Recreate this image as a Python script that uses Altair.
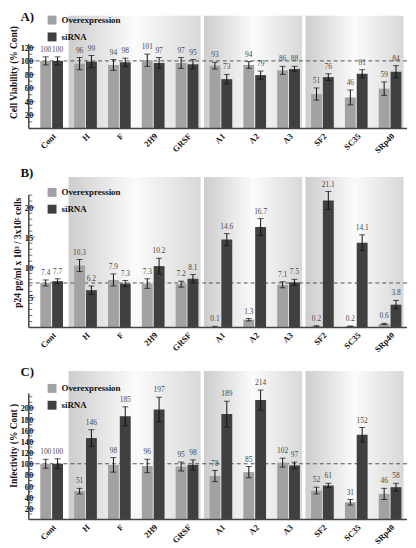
import altair as alt
import pandas as pd

categories = ["Cont", "H", "F", "2H9", "GRSF", "A1", "A2", "A3", "SF2", "SC35", "SRp40"]
series = ["Overexpression", "siRNA"]
bar_colors = ["#a2a2a2", "#404040"]

# Panel A: cell viability (% Cont)
via_over = [100, 96, 94, 101, 97, 93, 94, 86, 51, 46, 59]
via_over_err = [6, 9, 8, 9, 8, 5, 5, 6, 9, 11, 10]
via_si = [100, 99, 98, 97, 95, 73, 79, 88, 76, 81, 84]
via_si_err = [6, 9, 6, 8, 7, 7, 6, 4, 5, 6, 9]

# Panel B: p24 pg/ml x 10^3 / 3x10^5 cells
p24_over = [7.4, 10.3, 7.9, 7.3, 7.2, 0.1, 1.3, 7.1, 0.2, 0.2, 0.6]
p24_over_err = [0.5, 1.0, 1.0, 0.8, 0.5, 0.1, 0.2, 0.5, 0.1, 0.05, 0.1]
p24_si = [7.7, 6.2, 7.3, 10.2, 8.1, 14.6, 16.7, 7.5, 21.1, 14.1, 3.8]
p24_si_err = [0.4, 0.7, 0.5, 1.3, 0.7, 1.0, 1.4, 0.5, 1.5, 1.3, 0.7]

# Panel C: infectivity (% Cont)
inf_over = [100, 51, 98, 96, 95, 78, 85, 102, 52, 31, 46]
inf_over_err = [8, 5, 13, 12, 8, 10, 10, 8, 6, 5, 10]
inf_si = [100, 146, 185, 197, 98, 189, 214, 97, 61, 152, 58]
inf_si_err = [9, 15, 17, 22, 9, 23, 18, 6, 4, 13, 7]

# shaded groups (category index spans)
group_start = [1, 5, 8]
group_end = [5, 8, 11]

SERIF = "Liberation Serif"
W = 376

bg_gradient = alt.Gradient(
    gradient="linear",
    stops=[
        alt.GradientStop(offset=0, color="#cdcdcd"),
        alt.GradientStop(offset=0.5, color="#fbfbfb"),
        alt.GradientStop(offset=1, color="#d8d8d8"),
    ],
    x1=0, x2=1, y1=0, y2=0,
)


def panel(letter, letter_y, over, over_err, si, si_err, ytitle, ymax, axis_top, minor_ticks,
          label_step, label_max, ref, height, fmt, legend_y):
    rows = []
    for i, c in enumerate(categories):
        rows.append(dict(cat=c, series=series[0], value=over[i], err=over_err[i]))
        rows.append(dict(cat=c, series=series[1], value=si[i], err=si_err[i]))
    df = pd.DataFrame(rows)

    yscale = alt.Scale(domain=[0, ymax], nice=False, zero=True)
    is_major = [v % label_step == 0 and v <= label_max for v in minor_ticks]
    major = [v for v, m in zip(minor_ticks, is_major) if m]
    yaxis = alt.Axis(values=major, domain=False, grid=False, ticks=False,
                     labelPadding=2, labelOverlap=False,
                     labelFont=SERIF, labelFontWeight="bold", labelFontSize=8.5,
                     labelColor="#111", titleFont=SERIF, titleFontSize=9.5,
                     titleFontWeight="bold", titleColor="#111", titlePadding=2)

    def yq(field):
        return alt.Y(field, scale=yscale, axis=yaxis, title=ytitle)

    groups = pd.DataFrame({"start": group_start, "end": group_end})
    bg = alt.Chart(groups).transform_calculate(
        end2="datum.end - 0.1"
    ).mark_rect(color=bg_gradient).encode(
        x=alt.X("start:Q", scale=alt.Scale(domain=[0, len(categories)], nice=False, zero=False), axis=None),
        x2="end2:Q",
        y=alt.YDatum(ymax, scale=yscale, axis=yaxis, title=ytitle),
        y2=alt.Y2Datum(0),
    )

    base = alt.Chart(df).transform_calculate(
        lo="datum.value - datum.err", hi="datum.value + datum.err"
    )
    xenc = alt.X(
        "cat:N", sort=categories, title=None,
        scale=alt.Scale(paddingInner=0, paddingOuter=0),
        axis=alt.Axis(labelAngle=-45, labelFont=SERIF, labelFontWeight="bold",
                      labelFontSize=8.5, labelColor="#111", ticks=False, domain=False,
                      labelPadding=3),
    )
    xplain = alt.X("cat:N", sort=categories, title=None)
    xoff = alt.XOffset("series:N", sort=series,
                       scale=alt.Scale(paddingInner=0.08, paddingOuter=0.47))

    bars = base.mark_bar().encode(
        x=xenc,
        xOffset=xoff,
        y=yq("value:Q"),
        color=alt.Color("series:N", sort=series,
                        scale=alt.Scale(domain=series, range=bar_colors),
                        legend=alt.Legend(orient="none", legendX=13, legendY=legend_y,
                                          title=None, symbolType="square", symbolSize=81,
                                          symbolStrokeWidth=0, symbolOpacity=1,
                                          labelFont=SERIF, labelFontWeight="bold",
                                          labelFontSize=9, labelColor="#111",
                                          rowPadding=7, labelOffset=5, padding=0)),
    )
    rules = base.mark_rule(color="#111", strokeWidth=1).encode(
        x=xplain, xOffset=xoff, y=yq("lo:Q"), y2="hi:Q",
    )
    cap_hi = base.mark_tick(color="#111", size=6, thickness=1).encode(
        x=xplain, xOffset=xoff, y=yq("hi:Q"),
    )
    cap_lo = base.mark_tick(color="#111", size=6, thickness=1).encode(
        x=xplain, xOffset=xoff, y=yq("lo:Q"),
    )
    labels = base.mark_text(font=SERIF, fontSize=7.5, color="#4a4a4a", baseline="bottom", dy=-3).encode(
        x=xplain, xOffset=xoff, y=yq("hi:Q"),
        text=alt.Text("value:Q", format=fmt),
    )
    refline = alt.Chart(pd.DataFrame({"r": [ref]})).mark_rule(
        color="#555", strokeDash=[4, 3], strokeWidth=1
    ).encode(y=yq("r:Q"), x=alt.value(-6), x2=alt.value(W))
    yaxis_line = alt.Chart(pd.DataFrame({"a": [0], "b": [axis_top]})).mark_rule(
        color="#444", strokeWidth=1.5
    ).encode(y=yq("a:Q"), y2="b:Q", x=alt.value(-6))
    xaxis_line = alt.Chart(pd.DataFrame({"a": [0]})).mark_rule(
        color="#444", strokeWidth=1.5
    ).encode(y=yq("a:Q"), x=alt.value(-6), x2=alt.value(W))
    tick_df = pd.DataFrame({"t": minor_ticks, "major": is_major})
    ticks_major = alt.Chart(tick_df).transform_filter("datum.major").mark_tick(
        orient="horizontal", size=6, thickness=1, color="#333"
    ).encode(y=yq("t:Q"), x=alt.value(-3))
    ticks_minor = alt.Chart(tick_df).transform_filter("!datum.major").mark_tick(
        orient="horizontal", size=3.5, thickness=1, color="#333"
    ).encode(y=yq("t:Q"), x=alt.value(-4.2))
    letter_mark = alt.Chart(pd.DataFrame({"t": [letter]})).mark_text(
        font=SERIF, fontSize=13, fontWeight="bold", color="#111", align="left", baseline="top"
    ).encode(text="t:N", x=alt.value(-14.5), y=alt.value(letter_y))

    inner = alt.layer(refline, bars, rules, cap_hi, cap_lo, labels,
                      ticks_major, ticks_minor, yaxis_line, xaxis_line, letter_mark)
    layer = alt.layer(bg, inner).resolve_scale(x="independent").properties(
        width=W, height=height,
    )
    return layer


pA = panel("A)", -4.5, via_over, via_over_err, via_si, via_si_err, "Cell Viability (% Cont)",
           167, 125, list(range(10, 130, 10)), 20, 120, 100, 114, "d", 0)
pB = panel("B)", -10, p24_over, p24_over_err, p24_si, p24_si_err,
           "p24 pg/ml x 10³ / 3x10⁵ cells",
           25, 22, list(range(1, 23)), 5, 20, 7.4, 152, ".1f", 11)
pC = panel("C)", -5, inf_over, inf_over_err, inf_si, inf_si_err, "Infectivity (% Cont )",
           266, 226, list(range(10, 230, 10)), 20, 200, 100, 150, "d", 13)

chart = alt.vconcat(pA, pB, pC, spacing=12).resolve_scale(color="independent").configure_view(
    stroke=None
).configure_axis(labelOverlap=False).properties(
    padding={"left": 0, "top": 0, "right": 0, "bottom": 0}
)

chart.save("out.html", embed_options={"renderer": "svg", "actions": False})
